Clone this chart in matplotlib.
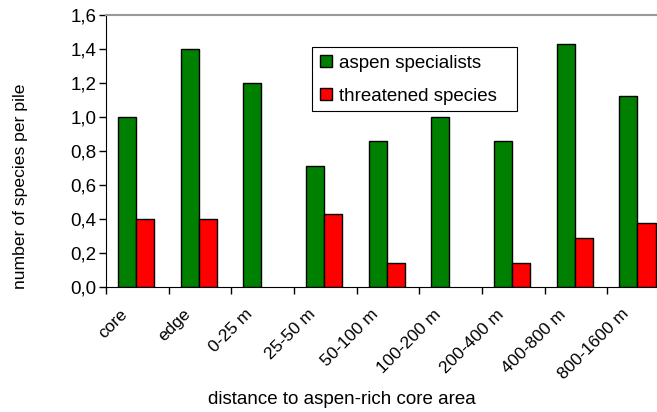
import matplotlib
matplotlib.use("Agg")
import matplotlib.pyplot as plt
from matplotlib.patches import Rectangle
import numpy as np

categories = ["core", "edge", "0-25 m", "25-50 m", "50-100 m", "100-200 m",
              "200-400 m", "400-800 m", "800-1600 m"]
aspen_specialists = [1.0, 1.4, 1.2, 0.714, 0.857, 1.0, 0.857, 1.43, 1.125]
threatened_species = [0.4, 0.4, 0.0, 0.43, 0.143, 0.0, 0.143, 0.29, 0.375]
ytick_values = [0.0, 0.2, 0.4, 0.6, 0.8, 1.0, 1.2, 1.4, 1.6]
ytick_labels = ["0,0", "0,2", "0,4", "0,6", "0,8", "1,0", "1,2", "1,4", "1,6"]

plt.rcParams['font.family'] = ['Liberation Sans', 'DejaVu Sans']
FS = 13.5

W, H = 657, 412
fig = plt.figure(figsize=(W / 100, H / 100), dpi=100)
ax = fig.add_axes([106/W, 125/H, 564/W, 272/H])

x = np.arange(len(categories))
w = 0.29
ax.bar(x + 0.335, aspen_specialists, width=w, color="#008000", edgecolor="black",
       linewidth=[1.0 if v > 0 else 0 for v in aspen_specialists],
       label="aspen specialists")
ax.bar(x + 0.625, threatened_species, width=w, color="#FF0000", edgecolor="black",
       linewidth=[1.0 if v > 0 else 0 for v in threatened_species],
       label="threatened species")

ax.set_xlim(0, len(categories))
ax.set_ylim(0, 1.6)
ax.set_yticks(ytick_values)
ax.set_yticklabels(ytick_labels, fontsize=FS)
ax.set_xticks(np.arange(len(categories) + 1))
ax.set_xticklabels([])
ax.set_xticks(x + 0.22, minor=True)
ax.set_xticklabels(categories, minor=True, rotation=45, ha='right',
                   rotation_mode='anchor', fontsize=12.5)
ax.tick_params(axis='x', which='minor', length=0, pad=14)
ax.tick_params(axis='x', which='major', length=5, width=1, direction='out')
ax.tick_params(axis='y', length=5, width=1, direction='out', pad=2)

ax.spines['right'].set_visible(False)
ax.spines['top'].set_color('#999999')
ax.spines['top'].set_linewidth(1.5)
ax.spines['left'].set_color('black')
ax.spines['bottom'].set_color('black')

fig.text(21/W, 1 - 186/H, "number of species per pile", fontsize=12.6,
         rotation=90, ha='center', va='center')
fig.text(342/W, 1 - 400/H, "distance to aspen-rich core area",
         fontsize=FS, ha='center', va='center')

# legend frame (box drawn separately to match the wider reference box)
ax.add_patch(Rectangle((312/W, 1 - 111/H), (517 - 312)/W, (111 - 47)/H,
                       transform=fig.transFigure, facecolor='white',
                       edgecolor='black', linewidth=0.8, zorder=5, clip_on=False))
leg = ax.legend(loc='upper left', bbox_to_anchor=((312 - 106) / 564, (287 - 47) / 272),
                fontsize=FS, frameon=False,
                handlelength=0.65, handleheight=0.65, borderpad=0.4, labelspacing=0.87,
                handletextpad=0.4, borderaxespad=0)
leg.set_zorder(6)

fig.savefig("out.png", dpi=100)
